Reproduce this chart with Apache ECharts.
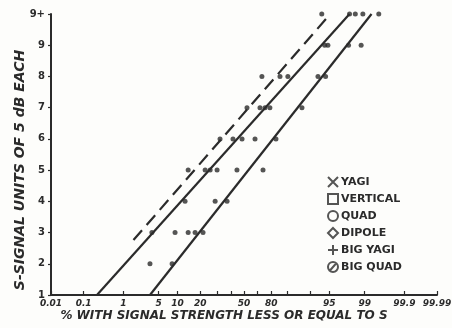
<!DOCTYPE html>
<html><head><meta charset="utf-8">
<script src="https://cdn.jsdelivr.net/npm/echarts@6/dist/echarts.min.js"></script>
<style>html,body{margin:0;padding:0;background:#fff}#c{width:452px;height:328px}</style>
</head><body><div id="c"></div><script>
// ---- data ----
// measured points: % with signal strength <= S, and S-unit (10 = "9+")
const pointPct = [3.5, 8.3,
  3.8, 9.2, 14.1, 17.3, 21.5,
  12.8, 28.9, 37.2,
  14.1, 22.7, 25.7, 30.2, 44.6, 64.3,
  32.2, 41.6, 48.5, 58.4, 73.1,
  52.3, 62.1, 65.7, 69.1, 86.8,
  63.5, 75.6, 80.1, 92.3, 94.2,
  94.0, 94.7, 97.8, 98.8,
  93.3, 97.9, 98.4, 98.9, 99.53];
const pointS = [2, 2,
  3, 3, 3, 3, 3,
  4, 4, 4,
  5, 5, 5, 5, 5, 5,
  6, 6, 6, 6, 6,
  7, 7, 7, 7, 7,
  8, 8, 8, 8, 8,
  9, 9, 9, 9,
  10, 10, 10, 10, 10];
// fitted lines (end points)
const dashedLinePct = [1.66, 94.7];
const dashedLineS = [2.76, 9.91];
const middleLinePct = [0.23, 97.9];
const middleLineS = [1, 10];
const rightLinePct = [3.5, 99.3];
const rightLineS = [1, 10];
// axes
const xTickPct = [0.01, 0.1, 1, 5, 10, 20, 30, 40, 50, 60, 70, 80, 90, 95, 99, 99.9, 99.99];
const xLabelPct = [0.01, 0.1, 1, 5, 10, 20, 50, 70, 95, 99, 99.9, 99.99];
const xLabelText = ['0.01', '0.1', '1', '5', '10', '20', '50', '80', '95', '99', '99.9', '99.99'];
const yTickValues = [1, 2, 3, 4, 5, 6, 7, 8, 9, 10];
const yTickText = ['1', '2', '3', '4', '5', '6', '7', '8', '9', '9+'];
const legendNames = ['YAGI', 'VERTICAL', 'QUAD', 'DIPOLE', 'BIG YAGI', 'BIG QUAD'];

// ---- normal probability scale ----
function probit(p) {
  const a = [-3.969683028665376e+01, 2.209460984245205e+02, -2.759285104469687e+02, 1.383577518672690e+02, -3.066479806614716e+01, 2.506628277459239e+00];
  const b = [-5.447609879822406e+01, 1.615858368580409e+02, -1.556989798598866e+02, 6.680131188771972e+01, -1.328068155288572e+01];
  const c = [-7.784894002430293e-03, -3.223964580411365e-01, -2.400758277161838e+00, -2.549732539343734e+00, 4.374664141464968e+00, 2.938163982698783e+00];
  const d = [7.784695709041462e-03, 3.224671290700398e-01, 2.445134137142996e+00, 3.754408661907416e+00];
  const pl = 0.02425, ph = 1 - pl;
  let q, r;
  if (p < pl) { q = Math.sqrt(-2 * Math.log(p)); return (((((c[0]*q+c[1])*q+c[2])*q+c[3])*q+c[4])*q+c[5]) / ((((d[0]*q+d[1])*q+d[2])*q+d[3])*q+1); }
  if (p > ph) { q = Math.sqrt(-2 * Math.log(1 - p)); return -(((((c[0]*q+c[1])*q+c[2])*q+c[3])*q+c[4])*q+c[5]) / ((((d[0]*q+d[1])*q+d[2])*q+d[3])*q+1); }
  q = p - 0.5; r = q * q;
  return (((((a[0]*r+a[1])*r+a[2])*r+a[3])*r+a[4])*r+a[5])*q / (((((b[0]*r+b[1])*r+b[2])*r+b[3])*r+b[4])*r+1);
}
const z = pct => probit(pct / 100);

const ink = '#2b2b2b';
const font = 'DejaVu Sans';
const linePts = (P, S) => P.map((p, i) => [z(p), S[i]]);

const legendIcons = [
  'path://M0,0L10,10M10,0L0,10',
  'rect',
  'circle',
  'diamond',
  'path://M5,0L5,10M0,5L10,5',
  'path://M5,0A5,5,0,1,1,4.99,0ZM1.5,9L8.5,1'
];

const series = [
  { type: 'line', name: 'dashed', data: linePts(dashedLinePct, dashedLineS), symbol: 'none', silent: true,
    lineStyle: { color: ink, width: 2.2, type: [13, 7] } },
  { type: 'line', name: 'middle', data: linePts(middleLinePct, middleLineS), symbol: 'none', silent: true,
    lineStyle: { color: ink, width: 2.2 } },
  { type: 'line', name: 'right', data: linePts(rightLinePct, rightLineS), symbol: 'none', silent: true,
    lineStyle: { color: ink, width: 2.2 } },
  { type: 'scatter', name: 'points', data: pointPct.map((p, i) => [z(p), pointS[i]]),
    symbol: 'circle', symbolSize: 5, itemStyle: { color: ink } }
];
legendNames.forEach((n, i) => series.push({ type: 'scatter', name: n, data: [],
  itemStyle: { color: 'rgba(0,0,0,0)', borderColor: ink, borderWidth: 1.6 } }));

const xTickZ = xTickPct.map(z);
const xLabelZ = xLabelPct.map(z);

const chart = echarts.init(document.getElementById('c'), null, { renderer: 'canvas' });
chart.setOption({
  animation: false,
  backgroundColor: '#fdfdfb',
  grid: { left: 51, right: 15, top: 14, bottom: 33, containLabel: false, outerBoundsMode: 'none' },
  legend: {
    orient: 'vertical', left: 327, top: 176, itemWidth: 10, itemHeight: 10, itemGap: 5,
    padding: 0, selectedMode: false,
    textStyle: { fontFamily: font, fontWeight: 'bold', fontSize: 11, color: ink, padding: [0, 0, 0, -2] },
    data: legendNames.map((n, i) => ({ name: n, icon: legendIcons[i] }))
  },
  xAxis: {
    type: 'value', min: z(0.01), max: z(99.99),
    splitLine: { show: false },
    axisLine: { onZero: false, lineStyle: { color: ink, width: 2 } },
    axisTick: { inside: true, length: 4, customValues: xTickZ, lineStyle: { color: ink, width: 1.2 } },
    axisLabel: { customValues: xLabelZ, margin: 4, color: ink, fontFamily: font, fontWeight: 'bold', fontStyle: 'italic', fontSize: 9,
      formatter: v => { const i = xLabelZ.findIndex(q => Math.abs(q - v) < 1e-6); return i >= 0 ? xLabelText[i] : ''; } },
    name: '% WITH SIGNAL STRENGTH LESS OR EQUAL TO S',
    nameLocation: 'middle', nameGap: 15, nameMoveOverlap: false,
    nameTextStyle: { fontFamily: font, fontWeight: 'bold', fontStyle: 'italic', fontSize: 12, color: ink, padding: [0, 40, 0, 0] }
  },
  yAxis: {
    type: 'value', min: 1, max: 10, interval: 1,
    splitLine: { show: false },
    axisLine: { onZero: false, lineStyle: { color: ink, width: 2 } },
    axisTick: { length: 3, lineStyle: { color: ink, width: 1.2 } },
    axisLabel: { margin: 6, color: ink, fontFamily: font, fontWeight: 'bold', fontSize: 10,
      formatter: v => { const i = yTickValues.indexOf(v); return i >= 0 ? yTickText[i] : ''; } },
    name: 'S-SIGNAL UNITS OF 5 dB EACH',
    nameLocation: 'middle', nameGap: 24, nameMoveOverlap: false,
    nameTextStyle: { fontFamily: font, fontWeight: 'bold', fontStyle: 'italic', fontSize: 14, color: ink, padding: [0, 31, 0, 0] }
  },
  series: series
});
</script></body></html>
